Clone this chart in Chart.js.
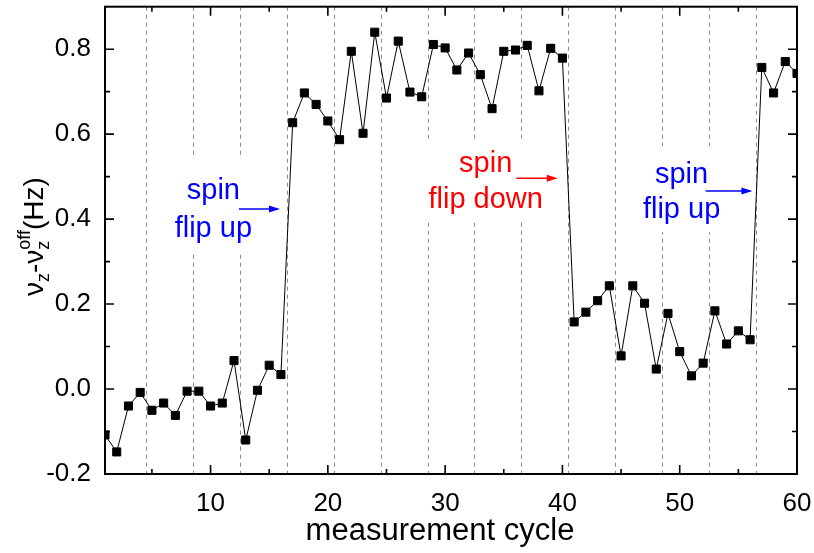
<!DOCTYPE html>
<html lang="en">
<head>
<meta charset="UTF-8" />
<title>Spin flip measurement</title>
<style>
  html, body { margin: 0; padding: 0; background: #fff; }
  #wrap { width: 814px; height: 553px; }
</style>
</head>
<body>
<div id="wrap"><canvas id="chart" width="814" height="553"></canvas></div>
<script src="https://cdn.jsdelivr.net/npm/chart.js"></script>
<script>
// measurement cycle number and measured shift nu_z - nu_z^off (Hz)
const cycles = [1, 2, 3, 4, 5, 6, 7, 8, 9, 10, 11, 12, 13, 14, 15, 16, 17, 18, 19, 20,
  21, 22, 23, 24, 25, 26, 27, 28, 29, 30, 31, 32, 33, 34, 35, 36, 37, 38, 39, 40,
  41, 42, 43, 44, 45, 46, 47, 48, 49, 50, 51, 52, 53, 54, 55, 56, 57, 58, 59, 60];
const freqShift = [-0.108, -0.148, -0.040, -0.008, -0.050, -0.033, -0.062, -0.005, -0.005, -0.040,
  -0.033, 0.067, -0.120, -0.003, 0.056, 0.034, 0.627, 0.697, 0.670, 0.631,
  0.587, 0.795, 0.602, 0.840, 0.685, 0.819, 0.699, 0.688, 0.811, 0.803,
  0.751, 0.791, 0.740, 0.660, 0.795, 0.798, 0.809, 0.702, 0.802, 0.779,
  0.158, 0.181, 0.208, 0.243, 0.078, 0.243, 0.202, 0.047, 0.178, 0.088,
  0.031, 0.061, 0.184, 0.106, 0.137, 0.116, 0.757, 0.697, 0.771, 0.743];

const xTicks = [10, 20, 30, 40, 50, 60];
const xMinorTicks = [5, 15, 25, 35, 45, 55];
const yTicks = [-0.2, 0.0, 0.2, 0.4, 0.6, 0.8];
const yMinorTicks = [-0.1, 0.1, 0.3, 0.5, 0.7];
const cycleDividers = [4.5, 8.5, 12.5, 16.5, 20.5, 24.5, 28.5, 32.5, 36.5, 40.5, 44.5, 48.5, 52.5, 56.5];

const FONT = '"Liberation Sans", Arial, Helvetica, sans-serif';

// text notes, placed in data units
const notes = [
  { lines: ['spin', 'flip up'], color: '#0000ff', x: 10.24, y: [0.447, 0.359],
    arrow: [12.42, 15.92, 0.424], box: [6.3, 14.2, 0.542, 0.318] },
  { lines: ['spin', 'flip down'], color: '#ff0000', x: 33.46, y: [0.511, 0.425],
    arrow: [36.07, 39.6, 0.496], box: [28.2, 38.6, 0.586, 0.393] },
  { lines: ['spin', 'flip up'], color: '#0000ff', x: 50.16, y: [0.486, 0.402],
    arrow: [52.21, 56.2, 0.466], box: [46.7, 53.75, 0.572, 0.369] }
];

const decorations = {
  id: 'decorations',
  beforeDatasetsDraw(chart) {
    const { ctx, chartArea: a, scales: { x, y } } = chart;
    ctx.save();
    ctx.strokeStyle = '#8a8a8a';
    ctx.lineWidth = 1;
    ctx.setLineDash([4, 4]);
    cycleDividers.forEach(v => {
      const px = Math.round(x.getPixelForValue(v)) + 0.5;
      ctx.beginPath();
      ctx.moveTo(px, a.top);
      ctx.lineTo(px, a.bottom);
      ctx.stroke();
    });
    ctx.setLineDash([]);
    ctx.fillStyle = '#fff';
    notes.forEach(n => {
      const x0 = x.getPixelForValue(n.box[0]), x1 = x.getPixelForValue(n.box[1]);
      const y0 = y.getPixelForValue(n.box[2]), y1 = y.getPixelForValue(n.box[3]);
      ctx.fillRect(x0, y0, x1 - x0, y1 - y0);
    });
    ctx.restore();
  },
  afterDraw(chart) {
    const { ctx, chartArea: a, scales: { x, y } } = chart;
    ctx.save();

    // notes and arrows
    notes.forEach(n => {
      ctx.fillStyle = n.color;
      ctx.strokeStyle = n.color;
      ctx.font = `29px ${FONT}`;
      ctx.textAlign = 'center';
      ctx.textBaseline = 'alphabetic';
      n.lines.forEach((t, i) => ctx.fillText(t, x.getPixelForValue(n.x), y.getPixelForValue(n.y[i])));
      const ax0 = x.getPixelForValue(n.arrow[0]), ax1 = x.getPixelForValue(n.arrow[1]);
      const ay = y.getPixelForValue(n.arrow[2]);
      ctx.lineWidth = 1.5;
      ctx.beginPath();
      ctx.moveTo(ax0, ay);
      ctx.lineTo(ax1 - 8, ay);
      ctx.stroke();
      ctx.beginPath();
      ctx.moveTo(ax1, ay);
      ctx.lineTo(ax1 - 11, ay - 3.5);
      ctx.lineTo(ax1 - 11, ay + 3.5);
      ctx.closePath();
      ctx.fill();
    });

    // frame and inward ticks
    ctx.strokeStyle = '#000';
    ctx.lineWidth = 2;
    ctx.strokeRect(a.left, a.top, a.right - a.left, a.bottom - a.top);
    ctx.lineWidth = 1.6;
    const vTick = (v, len) => {
      const px = x.getPixelForValue(v);
      ctx.beginPath();
      ctx.moveTo(px, a.bottom); ctx.lineTo(px, a.bottom - len);
      ctx.moveTo(px, a.top); ctx.lineTo(px, a.top + len);
      ctx.stroke();
    };
    const hTick = (v, len) => {
      const py = y.getPixelForValue(v);
      ctx.beginPath();
      ctx.moveTo(a.left, py); ctx.lineTo(a.left + len, py);
      ctx.moveTo(a.right, py); ctx.lineTo(a.right - len, py);
      ctx.stroke();
    };
    xTicks.forEach(v => vTick(v, 9));
    xMinorTicks.forEach(v => vTick(v, 5));
    yTicks.forEach(v => hTick(v, 9));
    yMinorTicks.forEach(v => hTick(v, 5));

    // axis titles
    ctx.fillStyle = '#000';
    ctx.textAlign = 'center';
    ctx.textBaseline = 'alphabetic';
    ctx.font = `31px ${FONT}`;
    ctx.fillText('measurement cycle', (a.left + a.right) / 2 - 11, 540);

    ctx.translate(43, 296);
    ctx.rotate(-Math.PI / 2);
    ctx.textAlign = 'left';
    const big = `28px ${FONT}`, small = `18px ${FONT}`;
    let cx = 0;
    const put = (t, f, dy) => {
      ctx.font = f;
      ctx.fillText(t, cx, dy);
      return ctx.measureText(t).width;
    };
    cx += put('\u03bd', big, 0);
    cx += put('z', small, 6);
    cx += put('-', big, 0);
    cx += put('\u03bd', big, 0);
    const wz = put('z', small, 6);
    const wo = put('off', small, -13);
    cx += Math.max(wz, wo);
    put('(Hz)', big, 0);
    ctx.restore();
  }
};

new Chart(document.getElementById('chart'), {
  type: 'line',
  data: {
    datasets: [{
      data: cycles.map((c, i) => ({ x: c, y: freqShift[i] })),
      borderColor: '#000',
      borderWidth: 1,
      pointStyle: 'rect',
      pointRadius: 5.7,
      pointBackgroundColor: '#000',
      pointBorderColor: '#000',
      pointBorderWidth: 1,
      tension: 0,
      clip: 0
    }]
  },
  options: {
    responsive: false,
    animation: false,
    events: [],
    layout: { padding: { left: 0, right: 17, top: 2, bottom: 0 } },
    plugins: { legend: { display: false }, tooltip: { enabled: false } },
    scales: {
      x: {
        type: 'linear',
        min: 1,
        max: 60,
        afterBuildTicks: s => { s.ticks = xTicks.map(v => ({ value: v })); },
        afterFit: s => { s.height = 79; s.paddingLeft = 0; s.paddingRight = 0; },
        grid: { display: false },
        border: { display: false },
        ticks: { color: '#000', font: { family: FONT, size: 26 }, padding: 6, maxRotation: 0, autoSkip: false }
      },
      y: {
        min: -0.2,
        max: 0.9,
        afterBuildTicks: s => { s.ticks = yTicks.map(v => ({ value: v })); },
        afterFit: s => { s.width = 105; s.paddingTop = 0; s.paddingBottom = 0; },
        grid: { display: false },
        border: { display: false },
        ticks: { color: '#000', font: { family: FONT, size: 26 }, padding: 6, callback: v => v.toFixed(1) }
      }
    }
  },
  plugins: [decorations]
});
</script>
</body>
</html>
